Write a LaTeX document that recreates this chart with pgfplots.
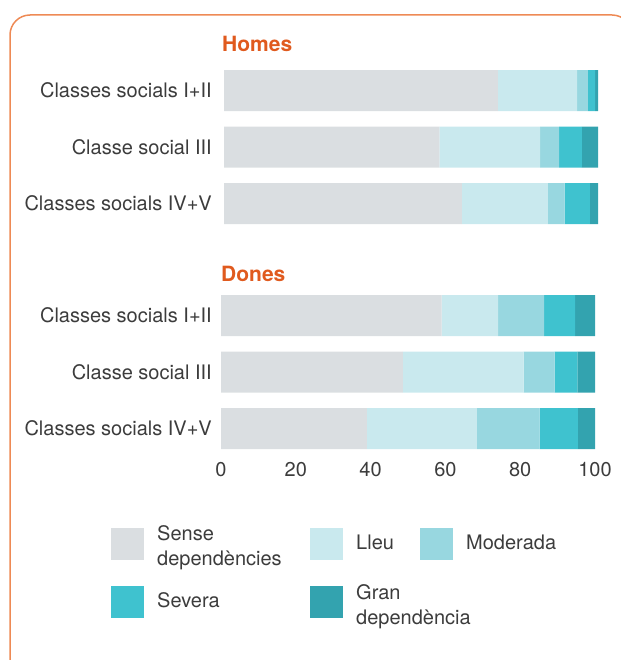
\documentclass[border=0pt]{standalone}
\usepackage{fontspec}
\setmainfont{TeX Gyre Heros}
\usepackage{pgfplots}
\pgfplotsset{compat=1.18}
\definecolor{cSense}{HTML}{DADEE1}
\definecolor{cLleu}{HTML}{C9E9EE}
\definecolor{cMod}{HTML}{98D7E0}
\definecolor{cSev}{HTML}{3FC2CF}
\definecolor{cGran}{HTML}{33A3AF}
\definecolor{txt}{HTML}{3C3C3C}
\definecolor{ttl}{HTML}{E05A1E}
\definecolor{frm}{HTML}{EE8A55}
\pgfplotsset{
  base/.style={
    scale only axis, width=374pt, height=169.5pt,
    xbar stacked, bar width=41pt,
    legend image code/.code={\fill[##1] (0pt,-16pt) rectangle (33pt,16pt);},
    xmin=0, xmax=100, ymin=-0.5, ymax=2.5, y dir=reverse,
    axis line style={draw=none}, major tick length=0pt,
    ytick={0,1,2},
    yticklabels={Classes socials I+II, Classe social III, Classes socials IV+V},
    ticklabel style={font=\fontsize{20}{25}\selectfont, text=txt, inner sep=0pt},
    /pgf/number format/assume math mode=true,
    title style={font=\fontsize{21}{25}\selectfont\bfseries, text=ttl, anchor=base west, inner sep=0pt},
    legend cell align=left,
    legend style={draw=none, fill=none, inner sep=0pt, anchor=west,
      nodes={inner sep=0pt, font=\fontsize{20}{25}\selectfont, text=txt},
      /tikz/every odd column/.append style={column sep=13pt}},
  }
}
\begin{document}
\fontsize{20}{25}\selectfont
\begin{tikzpicture}[x=1pt,y=1pt]
\path[use as bounding box] (0,0) rectangle (620,-660);
\draw[frm, line width=1.5pt, rounded corners=20pt] (10,-15) rectangle (632,-678);
% Homes
\begin{axis}[base, at={(224pt,-231.75pt)}, anchor=south west,
  xtick=\empty, yticklabel style={anchor=east, xshift=-12pt},
  title={Homes}, title style={at={(0,1)}, xshift=-2pt, yshift=4.5pt}]
\addplot[fill=cSense, draw=none] coordinates {(73.2,0) (57.6,1) (63.6,2)};
\addplot[fill=cLleu, draw=none] coordinates {(21.2,0) (26.9,1) (23.0,2)};
\addplot[fill=cMod, draw=none] coordinates {(2.9,0) (5.1,1) (4.5,2)};
\addplot[fill=cSev, draw=none] coordinates {(1.9,0) (6.1,1) (6.7,2)};
\addplot[fill=cGran, draw=none] coordinates {(0.8,0) (4.3,1) (2.2,2)};
\end{axis}
% Dones
\begin{axis}[base, at={(221pt,-456.75pt)}, anchor=south west,
  xtick={0,20,40,60,80,100},
  xticklabel style={anchor=north, yshift=-5.25pt},
  yticklabel style={anchor=east, xshift=-9pt},
  title={Dones}, title style={at={(0,1)}, yshift=0pt},
  legend columns=3,
  legend style={at={(-0.2941,-0.5118)}}]
\addplot[fill=cSense, draw=none] coordinates {(59.0,0) (48.6,1) (39.0,2)};
\addplot[fill=cLleu, draw=none] coordinates {(15.1,0) (32.3,1) (29.4,2)};
\addplot[fill=cMod, draw=none] coordinates {(12.3,0) (8.3,1) (16.8,2)};
\addplot[fill=cSev, draw=none] coordinates {(8.3,0) (6.1,1) (10.2,2)};
\addplot[fill=cGran, draw=none] coordinates {(5.3,0) (4.7,1) (4.6,2)};
\legend{\parbox[c]{153pt}{\fontsize{20}{25}\selectfont Sense\\dependències\rule[-15pt]{0pt}{15pt}}, \makebox[64pt][l]{Lleu}, Moderada}
\end{axis}
% legend row 2
\begin{axis}[base, at={(221pt,-456.75pt)}, anchor=south west, hide axis,
  legend columns=2,
  legend style={at={(-0.2941,-0.8560)}}]
\addlegendimage{fill=cSev, draw=none}
\addlegendimage{fill=cGran, draw=none}
\legend{\makebox[153pt][l]{Severa}, \parbox[c]{153pt}{\fontsize{20}{25}\selectfont Gran\\dependència\rule[-12pt]{0pt}{12pt}}}
\end{axis}
\end{tikzpicture}
\end{document}
